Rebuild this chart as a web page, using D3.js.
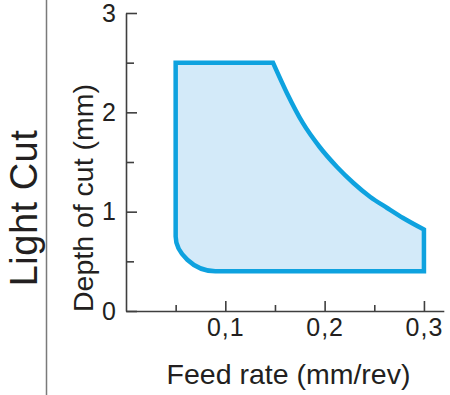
<!DOCTYPE html>
<html>
<head>
<meta charset="utf-8">
<script src="https://cdn.jsdelivr.net/npm/d3@7"></script>
<style>
  body { margin: 0; background: #fff; }
  text { font-family: "Liberation Sans", Arial, sans-serif; fill: #231f20; }
</style>
</head>
<body>
<div id="chart"></div>
<script>
// tick values and labels
var feedTicks = [0.1, 0.2, 0.3];
var feedTickLabels = ["0,1", "0,2", "0,3"];
var feedMinorTicks = [0.05, 0.15, 0.25];
var depthTicks = [0, 1, 2, 3];
var depthTickLabels = ["0", "1", "2", "3"];
var depthMinorTicks = [0.5, 1.5, 2.5];

// working region: upper limit curve (feed, depth)
var curveFeed  = [0.148, 0.162, 0.178, 0.195, 0.2125, 0.229, 0.246, 0.263, 0.279, 0.30];
var curveDepth = [2.5,   2.195, 1.893, 1.651, 1.45,   1.289, 1.148, 1.037, 0.936, 0.82];
// region corners
var minFeed = 0.05, maxFeed = 0.3;
var minDepth = 0.4, maxDepth = 2.5;
// rounded bottom-left corner: where the round starts / ends
var cornerDepth = 0.75, cornerFeed = 0.09;

var w = 450, h = 395;

var svg = d3.select("#chart").append("svg")
    .attr("width", w)
    .attr("height", h);

var x = d3.scaleLinear().domain([0, 0.32]).range([126, 443.8]);
var y = d3.scaleLinear().domain([0, 3]).range([311, 13]);

// separator line on the left
svg.append("line")
    .attr("x1", 46.5).attr("x2", 46.5)
    .attr("y1", 0).attr("y2", h)
    .attr("stroke", "#7a7a7a")
    .attr("stroke-width", 1.5);

// region shape
var p = d3.path();
var pts = curveFeed.map(function(f, i) { return [f, curveDepth[i]]; });
d3.line()
    .x(function(d) { return x(d[0]); })
    .y(function(d) { return y(d[1]); })
    .curve(d3.curveMonotoneX)
    .context(p)(pts);
p.lineTo(x(maxFeed), y(minDepth));
p.lineTo(x(cornerFeed), y(minDepth));
var k = 0.55;
p.bezierCurveTo(
    x(cornerFeed) - k * (x(cornerFeed) - x(minFeed)), y(minDepth),
    x(minFeed), y(minDepth) - k * (y(minDepth) - y(cornerDepth)),
    x(minFeed), y(cornerDepth));
p.lineTo(x(minFeed), y(maxDepth));
p.closePath();

svg.append("path")
    .attr("d", p.toString())
    .attr("fill", "#d3eaf9")
    .attr("stroke", "#0ea2df")
    .attr("stroke-width", 4.5)
    .attr("stroke-linejoin", "miter");

// axes
function styleAxis(g) {
    g.selectAll("path, line").attr("stroke", "#3f3f3f").attr("stroke-width", 1.6);
    g.selectAll("text")
        .style("font-family", "'Liberation Sans', Arial, sans-serif")
        .style("font-size", "25px")
        .attr("fill", "#231f20");
}

var yAxis = svg.append("g")
    .attr("transform", "translate(" + x(0) + ",0)")
    .call(d3.axisLeft(y)
        .tickValues(depthTicks)
        .tickSize(-11)
        .tickSizeOuter(0)
        .tickPadding(10)
        .tickFormat(function(d, i) { return depthTickLabels[i]; }))
    .call(styleAxis);

svg.append("g")
    .attr("transform", "translate(" + x(0) + ",0)")
    .call(d3.axisLeft(y)
        .tickValues(depthMinorTicks)
        .tickSize(-8)
        .tickFormat(""))
    .call(function(g) { g.select(".domain").remove(); })
    .call(styleAxis);

var xAxis = svg.append("g")
    .attr("transform", "translate(0," + y(0) + ")")
    .call(d3.axisBottom(x)
        .tickValues(feedTicks)
        .tickSize(-10)
        .tickSizeOuter(0)
        .tickPadding(7)
        .tickFormat(function(d, i) { return feedTickLabels[i]; }))
    .call(styleAxis);
xAxis.selectAll("text").attr("letter-spacing", 1);

svg.append("g")
    .attr("transform", "translate(0," + y(0) + ")")
    .call(d3.axisBottom(x)
        .tickValues(feedMinorTicks)
        .tickSize(-6)
        .tickFormat(""))
    .call(function(g) { g.select(".domain").remove(); })
    .call(styleAxis);

// axis titles
svg.append("text")
    .attr("x", 288.5)
    .attr("y", 384)
    .attr("text-anchor", "middle")
    .attr("font-size", 28.5)
    .text("Feed rate (mm/rev)");

svg.append("text")
    .attr("transform", "translate(93,198) rotate(-90)")
    .attr("text-anchor", "middle")
    .attr("font-size", 28.5)
    .text("Depth of cut (mm)");

svg.append("text")
    .attr("transform", "translate(37,208) rotate(-90)")
    .attr("text-anchor", "middle")
    .attr("font-size", 38)
    .attr("letter-spacing", 0.5)
    .text("Light Cut");
</script>
</body>
</html>
